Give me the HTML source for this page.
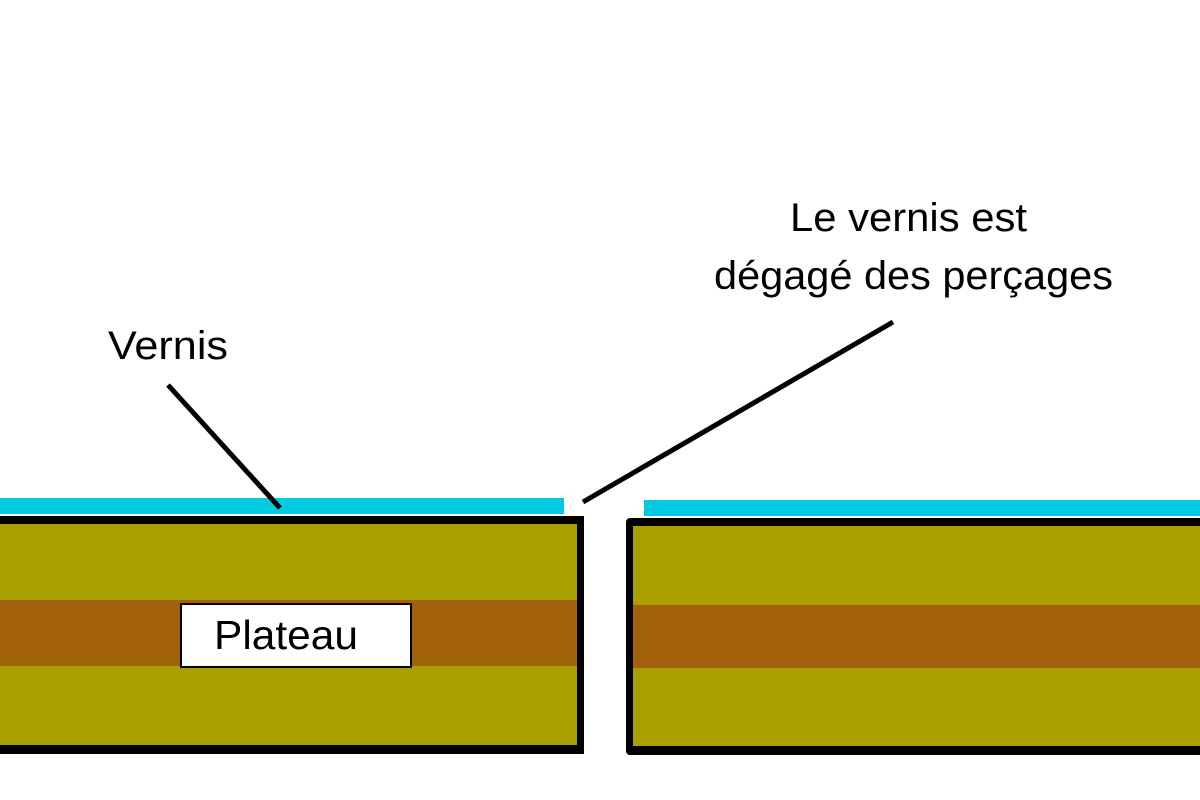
<!DOCTYPE html>
<html><head><meta charset="utf-8"><style>
html,body{margin:0;padding:0;background:#fff;width:1200px;height:800px;overflow:hidden}
</style></head><body>
<svg width="1200" height="800" viewBox="0 0 1200 800" xmlns="http://www.w3.org/2000/svg">
<rect width="1200" height="800" fill="#fff"/>
<rect x="0" y="498" width="564" height="16" fill="#00cbe3"/>
<rect x="644" y="500" width="556" height="16" fill="#00cbe3"/>
<rect x="0" y="516" width="584" height="238" fill="#000"/>
<rect x="0" y="524" width="577" height="221" fill="#a9a000"/>
<rect x="0" y="600" width="577" height="66" fill="#a2620b"/>
<rect x="626" y="518" width="580" height="237" rx="4" fill="#000"/>
<rect x="633" y="526" width="567" height="220" fill="#a9a000"/>
<rect x="633" y="605" width="567" height="63" fill="#a2620b"/>
<rect x="181" y="604" width="230" height="63" fill="#fff" stroke="#000" stroke-width="2"/>
<text x="214" y="649" font-family="Liberation Sans, sans-serif" font-size="41" textLength="144" lengthAdjust="spacingAndGlyphs" fill="#000">Plateau</text>
<line x1="168" y1="385" x2="280" y2="508" stroke="#000" stroke-width="5"/>
<line x1="893" y1="322" x2="583" y2="502" stroke="#000" stroke-width="5"/>
<text x="108" y="359" font-family="Liberation Sans, sans-serif" font-size="40" textLength="120" lengthAdjust="spacingAndGlyphs" fill="#000">Vernis</text>
<text x="790" y="231" font-family="Liberation Sans, sans-serif" font-size="40" textLength="237" lengthAdjust="spacingAndGlyphs" fill="#000">Le vernis est</text>
<text x="714" y="289" font-family="Liberation Sans, sans-serif" font-size="40" textLength="399" lengthAdjust="spacingAndGlyphs" fill="#000">dégagé des perçages</text>
</svg>
</body></html>
